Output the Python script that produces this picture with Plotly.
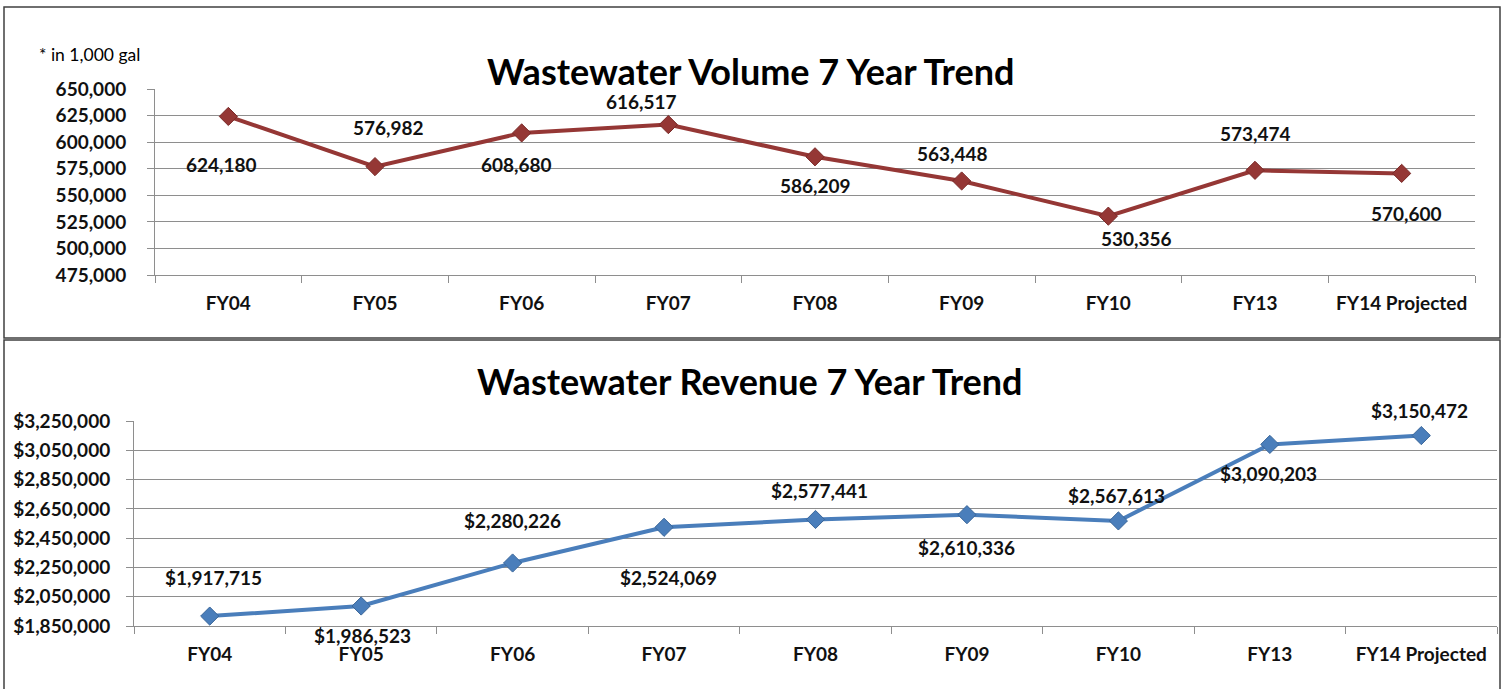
import plotly.graph_objects as go

# ---- data ----
categories = ["FY04", "FY05", "FY06", "FY07", "FY08", "FY09", "FY10", "FY13", "FY14 Projected"]
volume = [624180, 576982, 608680, 616517, 586209, 563448, 530356, 573474, 570600]
revenue = [1917715, 1986523, 2280226, 2524069, 2577441, 2610336, 2567613, 3090203, 3150472]
volume_ticks = [475000, 500000, 525000, 550000, 575000, 600000, 625000, 650000]
revenue_ticks = [1850000, 2050000, 2250000, 2450000, 2650000, 2850000, 3050000, 3250000]

# ---- label placement (pixel shifts) ----
vol_shift = [(-7, -48), (13, 39), (-5, -32), (-27, 23), (0, -29), (-9, 27), (28, -22), (0, 37), (5, -40)]
rev_shift = [(4, 39), (1, -29), (0, 43), (4, -50), (4, 29), (0, -33), (-2, 25), (-1, -29), (-2, 25)]

W, H = 1504, 689
FONT = "Lato"
RED = "#953735"
BLUE = "#4A7EBB"
GRID = "#8E8E8E"
TXT = "#111111"
FS = 19

fig = go.Figure()
fig.add_trace(go.Scatter(
    x=categories, y=volume, mode="lines+markers", xaxis="x", yaxis="y",
    line=dict(color=RED, width=4),
    marker=dict(symbol="diamond", size=14, color=RED, line=dict(color="#7A2A28", width=1)),
    hoverinfo="x+y", showlegend=False))
fig.add_trace(go.Scatter(
    x=categories, y=revenue, mode="lines+markers", xaxis="x2", yaxis="y2",
    line=dict(color=BLUE, width=4),
    marker=dict(symbol="diamond", size=14, color=BLUE, line=dict(color="#3A6699", width=1)),
    hoverinfo="x+y", showlegend=False))


def px(x):
    return x / W


def py(y):
    return 1 - y / H


xcommon = dict(type="category", range=[-0.5, 8.5], tickson="boundaries",
               ticks="outside", ticklen=7, tickcolor=GRID, showline=True, linecolor=GRID,
               linewidth=1, showgrid=False, tickfont=dict(family=FONT, size=FS, color=TXT),
               ticklabelstandoff=11, fixedrange=True, automargin=False,
               tickvals=categories, ticktext=[f"<b>{c}</b>" for c in categories])
ycommon = dict(ticks="outside", ticklen=7, tickcolor=GRID, showline=True, linecolor=GRID,
               linewidth=1, showgrid=True, gridcolor=GRID, gridwidth=1,
               tickfont=dict(family=FONT, size=FS, color=TXT),
               zeroline=False, fixedrange=True, automargin=False)

fig.update_layout(
    width=W, height=H, margin=dict(l=0, r=0, t=0, b=0, pad=0, autoexpand=False),
    paper_bgcolor="white", plot_bgcolor="white",
    xaxis=dict(domain=[px(155), px(1475)], anchor="y", **xcommon),
    yaxis=dict(domain=[py(275), py(89)], anchor="x", range=[475000, 650000], ticklabelstandoff=17,
               tickvals=volume_ticks, ticktext=[f"<b>{t:,}</b>" for t in volume_ticks], **ycommon),
    xaxis2=dict(domain=[px(134), px(1497)], anchor="y2", **xcommon),
    yaxis2=dict(domain=[py(626), py(421)], anchor="x2", range=[1850000, 3250000], ticklabelstandoff=12,
                tickvals=revenue_ticks, ticktext=[f"<b>${t:,}</b>" for t in revenue_ticks], **ycommon),
)

ann = []
for c, v, (dx, dy) in zip(categories, volume, vol_shift):
    ann.append(dict(x=c, y=v, xref="x", yref="y", text=f"<b>{v:,}</b>", showarrow=False,
                    xshift=dx, yshift=dy, font=dict(family=FONT, size=FS, color=TXT)))
for c, v, (dx, dy) in zip(categories, revenue, rev_shift):
    ann.append(dict(x=c, y=v, xref="x2", yref="y2", text=f"<b>${v:,}</b>", showarrow=False,
                    xshift=dx, yshift=dy, font=dict(family=FONT, size=FS, color=TXT)))
ann.append(dict(x=px(750), y=py(47), xref="paper", yref="paper", text="<b>Wastewater Volume 7 Year Trend</b>",
                showarrow=False, font=dict(family=FONT, size=36, color="#000000")))
ann.append(dict(x=px(750), y=py(381), xref="paper", yref="paper", text="<b>Wastewater Revenue 7 Year Trend</b>",
                showarrow=False, font=dict(family=FONT, size=36, color="#000000")))
ann.append(dict(x=px(37), y=py(42), xref="paper", yref="paper", text="* in 1,000 gal",
                showarrow=False, xanchor="left", font=dict(family=FONT, size=17.5, color="#000000")))
fig.update_layout(annotations=ann)

fig.add_shape(type="rect", xref="paper", yref="paper", x0=px(4), x1=px(1500), y0=py(338), y1=py(7),
              line=dict(color="#404040", width=1.5))
fig.add_shape(type="rect", xref="paper", yref="paper", x0=px(4), x1=px(1500), y0=py(700), y1=py(340),
              line=dict(color="#404040", width=1.5))

post = ("document.documentElement.style.margin='0';document.body.style.margin='0';"
        "document.body.style.padding='0';document.body.style.overflow='hidden';"
        "var d=document.getElementById('{plot_id}');d.style.position='absolute';"
        "d.style.left='0px';d.style.top='0px';")
fig.write_html("out.html", config=dict(displayModeBar=False), post_script=post)
